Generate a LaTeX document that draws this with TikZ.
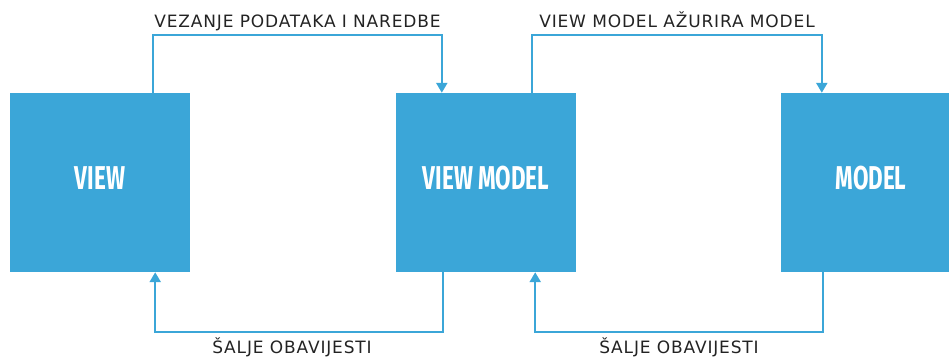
\documentclass[tikz,border=0pt]{standalone}
\usepackage{fontspec}
\setmainfont{DejaVu Sans}
\newfontfamily\boxfont[FakeStretch=0.68]{Fira Sans}
\newfontfamily\labelfont[LetterSpace=5]{DejaVu Sans}
\usetikzlibrary{arrows.meta}
\definecolor{mvvmblue}{RGB}{59,166,216}
\definecolor{labelgray}{RGB}{35,35,35}
\tikzset{
  block/.style={fill=mvvmblue, minimum width=180pt, minimum height=179pt,
    inner sep=0pt, text=white, font=\boxfont\bfseries\fontsize{33}{33}\selectfont,
    text height=24pt, text depth=10pt},
  link/.style={draw=mvvmblue, line width=2.3pt, -{Triangle[width=11pt,length=10pt]}},
  caption/.style={text=labelgray, inner sep=0pt, anchor=base,
    font=\labelfont\fontsize{17}{18}\selectfont}
}
\begin{document}
\begin{tikzpicture}[x=1pt, y=1pt]
        \useasboundingbox (0,0) rectangle (949,356);
        % blocks
        \node[block] (view) at (100,173.5) {VIEW};
        \node[block] (vm) at (486,173.5) {VIEW MODEL};
        \node[block] (model) at (871,173.5) {MODEL};
        % bindings on top
        \draw[link] ([xshift=-37pt]view.north east) -- ++(0,58)
            -| node[pos=0.25, yshift=7pt, caption] {VEZANJE PODATAKA I NAREDBE} ([xshift=46pt]vm.north west);
        \draw[link] ([xshift=-44pt]vm.north east) -- ++(0,58)
            -| node[pos=0.25, yshift=7pt, caption] {VIEW MODEL AŽURIRA MODEL} ([xshift=41pt]model.north west);
        % notifications below
        \draw[link] ([xshift=47pt]vm.south west) -- ++(0,-60)
            -| node[pos=0.25, yshift=-21pt, xshift=-7pt, caption] {ŠALJE OBAVIJESTI} ([xshift=-35pt]view.south east);
        \draw[link] ([xshift=42pt]model.south west) -- ++(0,-60)
            -| node[pos=0.25, yshift=-21pt, caption] {ŠALJE OBAVIJESTI} ([xshift=-41pt]vm.south east);
\end{tikzpicture}
\end{document}
